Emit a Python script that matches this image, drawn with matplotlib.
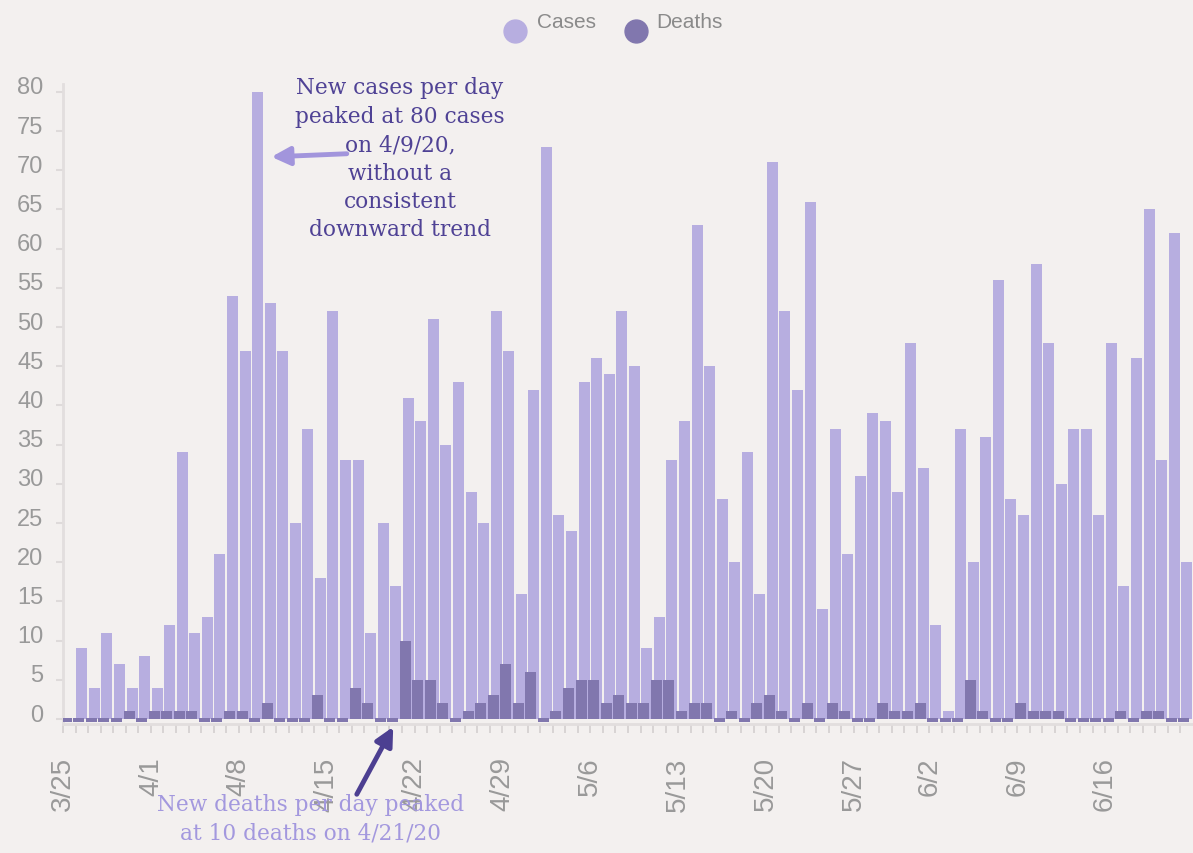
import numpy as np
import pandas as pd
import matplotlib
matplotlib.use('Agg')
import matplotlib.pyplot as plt
from matplotlib.lines import Line2D
from matplotlib.transforms import ScaledTranslation

# daily values 3/25/20 .. 6/22/20
start_date = '2020-03-25'
end_date = '2020-06-22'
cases = [0, 9, 4, 11, 7, 4, 8, 4, 12, 34, 11, 13, 21, 54, 47, 80, 53, 47, 25, 37,
         18, 52, 33, 33, 11, 25, 17, 41, 38, 51, 35, 43, 29, 25, 52, 47, 16, 42, 73, 26,
         24, 43, 46, 44, 52, 45, 9, 13, 33, 38, 63, 45, 28, 20, 34, 16, 71, 52, 42, 66,
         14, 37, 21, 31, 39, 38, 29, 48, 32, 12, 1, 37, 20, 36, 56, 28, 26, 58, 48, 30,
         37, 37, 26, 48, 17, 46, 65, 33, 62, 20]
deaths = [0, 0, 0, 0, 0, 1, 0, 1, 1, 1, 1, 0, 0, 1, 1, 0, 2, 0, 0, 0,
          3, 0, 0, 4, 2, 0, 0, 10, 5, 5, 2, 0, 1, 2, 3, 7, 2, 6, 0, 1,
          4, 5, 5, 2, 3, 2, 2, 5, 5, 1, 2, 2, 0, 1, 0, 2, 3, 1, 0, 2,
          0, 2, 1, 0, 0, 2, 1, 1, 2, 0, 0, 0, 5, 1, 0, 0, 2, 1, 1, 1,
          0, 0, 0, 0, 1, 0, 1, 1, 0, 0]
tick_dates = ['2020-03-25', '2020-04-01', '2020-04-08', '2020-04-15', '2020-04-22',
              '2020-04-29', '2020-05-06', '2020-05-13', '2020-05-20', '2020-05-27',
              '2020-06-02', '2020-06-09', '2020-06-16']
y_ticks = list(range(0, 85, 5))

BG = '#f3f0ef'
LIGHT = '#b7aee0'
DARK = '#8177ae'
GRAY = '#999999'

plt.rcParams['font.family'] = ['Liberation Sans', 'DejaVu Sans']

dates = pd.date_range(start_date, end_date)
days = np.arange(len(dates))
cases = np.array(cases)
deaths = np.array(deaths)

fig = plt.figure(figsize=(11.93, 8.54), dpi=100, facecolor=BG)
ax = fig.add_axes([0.0528, 0.1514, 0.9472, 0.7491])
ax.set_facecolor(BG)

ax.bar(days + 0.5, cases, width=0.88, color=LIGHT, zorder=2)
# zero-death days get a small stub under the baseline
d_h = np.where(deaths == 0, 0.5, deaths)
d_b = np.where(deaths == 0, -0.4, 0)
ax.bar(days + 0.26, d_h, bottom=d_b, width=0.88, color=DARK, zorder=3)

ax.set_xlim(0, len(dates))
ax.set_ylim(-0.6, 81)

for s in ['top', 'right']:
    ax.spines[s].set_visible(False)
ax.spines['left'].set_color('#e2dede')
ax.spines['left'].set_linewidth(2)
ax.spines['bottom'].set_color('#e2dede')
ax.spines['bottom'].set_linewidth(2)

ax.set_yticks(y_ticks)
ax.set_yticklabels([str(v) for v in y_ticks])
ax.tick_params(axis='y', length=5, width=1.5, color='#dedada', labelcolor=GRAY,
               labelsize=17, pad=9)
for lab in ax.get_yticklabels():
    lab.set_transform(lab.get_transform() + ScaledTranslation(0, 0.07, fig.dpi_scale_trans))

label_pos = [dates.get_loc(pd.Timestamp(d)) for d in tick_dates]
ax.set_xticks(days)
ax.set_xticklabels(['{}/{}'.format(d.month, d.day) if i in label_pos else ''
                    for i, d in enumerate(dates)], rotation=90)
ax.tick_params(axis='x', length=6.5, width=1.4, color='#d8d4d4', labelcolor=GRAY,
               labelsize=20, pad=17)
for lab in ax.get_xticklabels():
    lab.set_va('top')

# legend
fig.add_artist(Line2D([0.4317], [0.9625], marker='o', markersize=16.5, color=LIGHT,
                      linestyle='', transform=fig.transFigure))
fig.add_artist(Line2D([0.533], [0.9625], marker='o', markersize=16.5, color=DARK,
                      linestyle='', transform=fig.transFigure))
fig.text(0.450, 0.974, 'Cases', color='#8a8a8a', fontsize=15, va='center')
fig.text(0.550, 0.974, 'Deaths', color='#8a8a8a', fontsize=15, va='center')

# annotations
peak_c = int(np.argmax(cases))
peak_d = int(np.argmax(deaths))
ax.annotate('', xy=(peak_c + 1.6, 71.7), xytext=(peak_c + 7.6, 72.1),
            arrowprops=dict(arrowstyle='-|>,head_length=1.1,head_width=0.55',
                            color='#a295dc', lw=3.5, shrinkA=0, shrinkB=0),
            annotation_clip=False)
ax.text(peak_c + 11.85, 82.0, 'New cases per day\npeaked at 80 cases\non 4/9/20,\nwithout a\n'
        'consistent\ndownward trend', ha='center', va='top', family='DejaVu Serif',
        fontsize=15.6, color='#4f4295', linespacing=1.38, zorder=5)

ax.annotate('', xy=(peak_d - 0.7, -1.0), xytext=(peak_d - 3.6, -9.6),
            arrowprops=dict(arrowstyle='-|>,head_length=1.1,head_width=0.55',
                            color='#4c3f91', lw=3.5, shrinkA=0, shrinkB=0),
            annotation_clip=False)
ax.text(peak_d - 7.3, -9.4, 'New deaths per day peaked\nat 10 deaths on 4/21/20',
        ha='center', va='top', family='DejaVu Serif', fontsize=15.6,
        color='#a398de', linespacing=1.38, zorder=5)

fig.savefig('out.png', dpi=100, facecolor=BG)
